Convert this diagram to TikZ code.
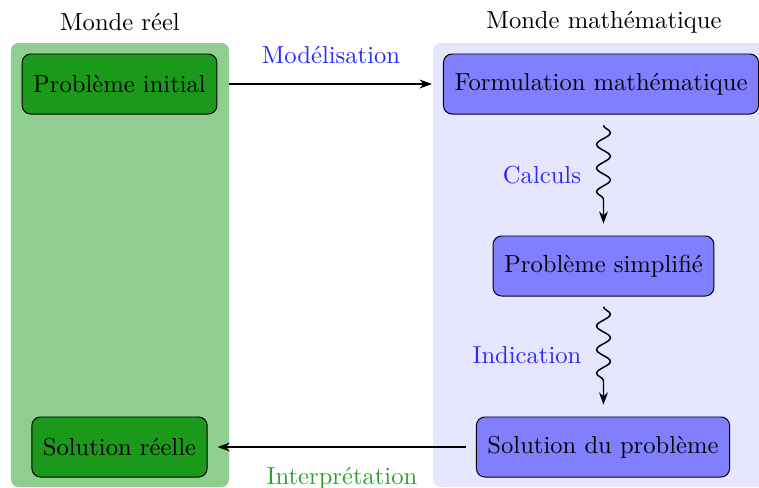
\documentclass[tikz,border=0pt]{standalone}
\usetikzlibrary{decorations.pathmorphing,arrows.meta}
\definecolor{bggreen}{RGB}{144,206,144}
\definecolor{nodegreen}{RGB}{27,153,27}
\definecolor{bgblue}{RGB}{230,230,255}
\definecolor{nodeblue}{RGB}{128,128,255}
\definecolor{lblblue}{RGB}{40,40,255}
\definecolor{lblgreen}{RGB}{45,160,45}
\tikzset{
  box/.style={draw=black, rounded corners=3.5pt, inner xsep=4.5pt, minimum height=24.4pt, anchor=center},
  gbox/.style={box, fill=nodegreen},
  bbox/.style={box, fill=nodeblue},
  bg/.style={rounded corners=3pt, draw=none},
  arr/.style={semithick, -{Stealth[length=5pt,width=3.6pt]}},
  wig/.style={arr, decorate, decoration={snake, amplitude=2.8pt, segment length=9.6pt, post length=9pt}},
  lbl/.style={inner sep=0pt}
}
\begin{document}
\begin{tikzpicture}[x=0.4065pt,y=-0.4065pt]
\useasboundingbox (0,0) rectangle (759,488);
\begin{scope}
\clip (0,0) rectangle (759,488);
\fill[bg, bggreen] (11,43) rectangle (229,487);
\fill[bg, bgblue] (433,43) rectangle (790,487);

\node[lbl] (mr) at (120,22) {Monde réel};
\node[lbl] (mm) at (604,22) {Monde mathématique};

\node[gbox] (pi) at (119.5,84) {Problème initial};
\node[bbox] (fm) at (601,84) {Formulation mathématique};
\node[bbox] (ps) at (603.5,266) {Problème simplifié};
\node[bbox] (sp) at (603,447) {Solution du problème};
\node[gbox] (sr) at (119.5,447) {Solution réelle};

\draw[arr, shorten <=4.8pt, shorten >=4.5pt] (pi.east) -- (fm.west);
\draw[arr, shorten <=4.2pt, shorten >=4pt] (sp.west) -- (sr.east);
\draw[wig] ([yshift=-4.4pt]fm.south -| ps.north) -- ([yshift=4.8pt]ps.north);
\draw[wig] ([yshift=-4.2pt]ps.south) -- ([yshift=4.8pt]sp.north -| ps.south);

\node[lbl, text=lblblue] (mod) at (331,55) {Modélisation};
\node[lbl, text=lblblue] (cal) at (542,175) {Calculs};
\node[lbl, text=lblblue] (ind) at (527,355) {Indication};
\node[lbl, text=lblgreen] (int) at (342,478) {Interprétation};
\end{scope}
\end{tikzpicture}
\end{document}
